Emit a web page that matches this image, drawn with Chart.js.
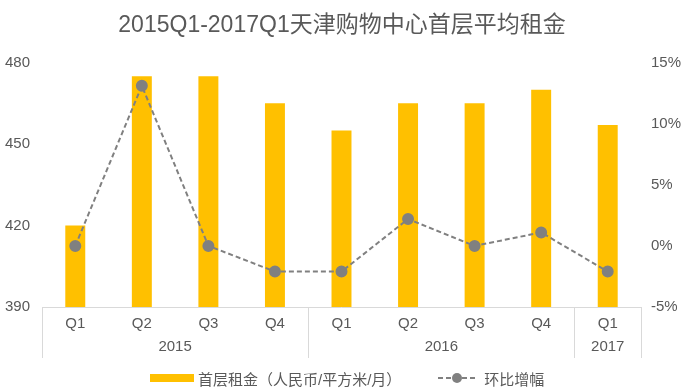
<!DOCTYPE html>
<html>
<head>
<meta charset="utf-8">
<script src="https://cdn.jsdelivr.net/npm/chart.js@4"></script>
<style>
  html, body { margin: 0; padding: 0; background: #fff; }
  #wrap { position: relative; width: 684px; height: 391px; }
  #legend {
    position: absolute; top: 368px; left: 150px; height: 20px;
    font-family: "Liberation Sans", "Noto Sans CJK SC", sans-serif;
    font-size: 15px; color: #595959; display: flex; align-items: center;
  }
  .swatch { display: inline-block; width: 44px; height: 8px; background: #FFC000; margin-right: 4px; }
  .item { display: flex; align-items: center; }
</style>
</head>
<body>
<div id="wrap">
  <canvas id="rentChart" width="684" height="391"></canvas>
  <div id="legend">
    <span class="item"><span class="swatch"></span>首层租金（人民币/平方米/月）</span>
    <span class="item" style="margin-left:36px">
      <svg width="40" height="12" style="margin-right:7px">
        <line x1="1" y1="6" x2="39" y2="6" stroke="#808080" stroke-width="2" stroke-dasharray="5,3"></line>
        <circle cx="20" cy="6" r="5" fill="#808080"></circle>
      </svg>环比增幅</span>
  </div>
</div>
<script>
const quarters = ["Q1", "Q2", "Q3", "Q4", "Q1", "Q2", "Q3", "Q4", "Q1"];
const years = ["2015", "2016", "2017"];
const yearSpans = [[0, 3], [4, 7], [8, 8]];
const rentValues = [420, 475, 475, 465, 455, 465, 465, 470, 457];
const growthValues = [0, 13.1, 0, -2.1, -2.1, 2.2, 0, 1.1, -2.1];

const textColor = "#595959";
const fontFamily = '"Liberation Sans", "Noto Sans CJK SC", sans-serif';

// draws the grouped year row and the box lines under the plot
const yearAxisPlugin = {
  id: "yearAxis",
  afterDraw(chart) {
    const ctx = chart.ctx;
    const x = chart.scales.x;
    const area = chart.chartArea;
    const half = (x.getPixelForValue(1) - x.getPixelForValue(0)) / 2;
    const bottom = area.bottom + 51;
    ctx.save();
    ctx.strokeStyle = "#d9d9d9";
    ctx.lineWidth = 1;
    ctx.beginPath();
    ctx.moveTo(area.left, area.bottom + 0.5);
    ctx.lineTo(area.right, area.bottom + 0.5);
    const edges = [area.left, x.getPixelForValue(3) + half, x.getPixelForValue(7) + half, area.right];
    edges.forEach((e) => {
      const px = Math.round(e) + 0.5;
      ctx.moveTo(px, area.bottom);
      ctx.lineTo(px, bottom);
    });
    ctx.stroke();

    ctx.fillStyle = textColor;
    ctx.font = "15px " + fontFamily;
    ctx.textAlign = "center";
    ctx.textBaseline = "middle";
    yearSpans.forEach((span, i) => {
      const cx = (x.getPixelForValue(span[0]) + x.getPixelForValue(span[1])) / 2;
      ctx.fillText(years[i], cx, area.bottom + 40);
    });
    ctx.restore();
  },
};

const ctx = document.getElementById("rentChart").getContext("2d");
const rentChart = new Chart(ctx, {
  type: "bar",
  data: {
    labels: quarters,
    datasets: [
      {
        type: "line",
        label: "环比增幅",
        data: growthValues,
        yAxisID: "y1",
        borderColor: "#808080",
        backgroundColor: "#808080",
        borderWidth: 2,
        borderDash: [5, 3],
        pointRadius: 5,
        pointHoverRadius: 5,
        tension: 0,
        order: 0,
      },
      {
        label: "首层租金（人民币/平方米/月）",
        data: rentValues,
        yAxisID: "y",
        backgroundColor: "#FFC000",
        barPercentage: 0.3,
        categoryPercentage: 1,
        order: 1,
      },
    ],
  },
  options: {
    responsive: false,
    animation: false,
    layout: { padding: { top: 0, left: 0, right: 0, bottom: 0 } },
    plugins: {
      legend: { display: false },
      tooltip: { enabled: false },
      title: {
        display: true,
        text: "2015Q1-2017Q1天津购物中心首层平均租金",
        color: textColor,
        font: { family: fontFamily, size: 23, weight: "normal" },
        padding: { top: 12, bottom: 23 },
      },
    },
    scales: {
      x: {
        grid: { display: false, drawTicks: false },
        border: { display: false },
        ticks: { color: textColor, font: { family: fontFamily, size: 15 }, padding: 8, maxRotation: 0 },
        afterFit: (scale) => { scale.height = 84; },
      },
      y: {
        position: "left",
        min: 390,
        max: 480,
        grid: { display: false, drawTicks: false },
        border: { display: false },
        ticks: { stepSize: 30, color: textColor, font: { family: fontFamily, size: 15 }, padding: 12 },
        afterFit: (scale) => { scale.width = 42; },
      },
      y1: {
        position: "right",
        min: -5,
        max: 15,
        grid: { display: false, drawTicks: false },
        border: { display: false },
        ticks: {
          stepSize: 5,
          color: textColor,
          font: { family: fontFamily, size: 15 },
          padding: 10,
          callback: (v) => v + "%",
        },
        afterFit: (scale) => { scale.width = 43; },
      },
    },
  },
  plugins: [yearAxisPlugin],
});
</script>
</body>
</html>
